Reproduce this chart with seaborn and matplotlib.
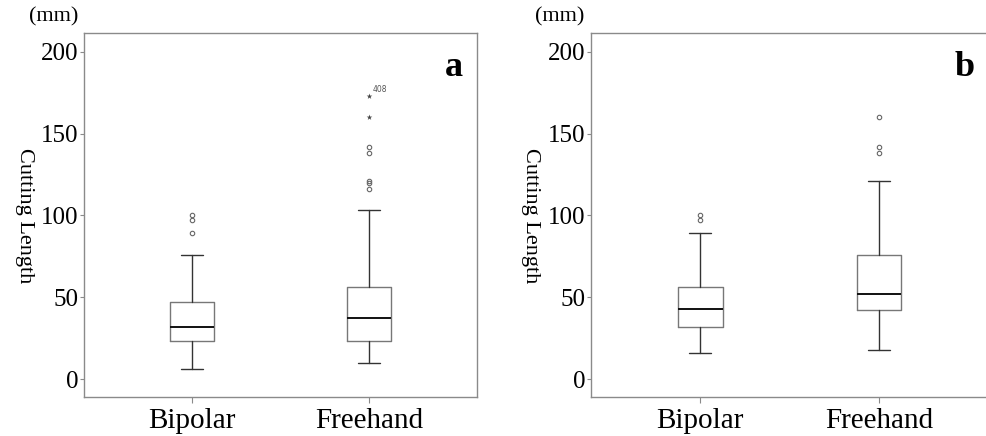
import matplotlib
matplotlib.use('Agg')

import matplotlib.pyplot as plt
import seaborn as sns

# summary values (mm)
groups = ['Bipolar', 'Freehand']
panel_labels = ['a', 'b']

# panel a
a_whislo = [6, 10]
a_q1 = [23, 23]
a_med = [32, 37]
a_q3 = [47, 56]
a_whishi = [76, 103]
a_fliers = [[89, 97, 100], [116, 120, 121, 138, 142]]
a_extremes = [[], [160, 173]]

# panel b
b_whislo = [16, 18]
b_q1 = [32, 42]
b_med = [43, 52]
b_q3 = [56, 76]
b_whishi = [89, 121]
b_fliers = [[97, 100], [138, 142, 160]]
b_extremes = [[], []]

yticks = [0, 50, 100, 150, 200]

sns.set_style('white')
plt.rcParams['font.family'] = ['Liberation Serif', 'DejaVu Serif']
plt.rcParams['text.color'] = 'black'
plt.rcParams['axes.labelcolor'] = 'black'
plt.rcParams['xtick.labelcolor'] = 'black'
plt.rcParams['ytick.labelcolor'] = 'black'

GRAY = '#8a8a8a'


def make_stats(lo, q1, med, q3, hi, fl):
    out = []
    for i in range(len(groups)):
        out.append({'whislo': lo[i], 'q1': q1[i], 'med': med[i], 'q3': q3[i],
                    'whishi': hi[i], 'fliers': fl[i], 'label': groups[i]})
    return out


def draw_panel(ax, stats, extremes, letter, note=None):
    ax.bxp(stats, positions=[0, 1], widths=0.25, showfliers=True,
           boxprops=dict(color='#777777', linewidth=1.0),
           whiskerprops=dict(color='#333333', linewidth=1.0),
           capprops=dict(color='#333333', linewidth=1.0),
           medianprops=dict(color='#111111', linewidth=1.4),
           flierprops=dict(marker='o', markersize=3.2, markerfacecolor='none',
                           markeredgecolor='#666666', markeredgewidth=0.8))
    for i, vals in enumerate(extremes):
        if vals:
            sns.scatterplot(x=[i] * len(vals), y=vals, ax=ax, marker='*', s=18,
                            color='#444444', linewidth=0, legend=False)
    if note:
        i, v, txt = note
        ax.text(i + 0.02, v + 1.5, txt, fontsize=5.5, color='#555555',
                family='DejaVu Sans', ha='left', va='bottom')

    ax.set_xlim(-0.61, 1.61)
    ax.set_ylim(-11, 211.5)
    ax.set_yticks(yticks)
    ax.set_xticks([0, 1])
    ax.set_xticklabels(groups, fontsize=21)
    ax.tick_params(axis='y', labelsize=18, length=3, width=0.8, color=GRAY, pad=1,
                   left=True, labelcolor='black')
    ax.tick_params(axis='x', length=4, width=0.8, color=GRAY, pad=4, bottom=True,
                   labelcolor='black')
    for s in ax.spines.values():
        s.set_color(GRAY)
        s.set_linewidth(1.0)
    ax.set_ylabel('Cutting Length', fontsize=16, rotation=-90, va='center',
                  ha='center', color='black')
    ax.yaxis.set_label_coords(-0.152, 0.498)
    ax.text(0.965, 0.905, letter, transform=ax.transAxes, fontsize=26,
            fontweight='bold', ha='right', va='center', color='black')
    ax.text(-0.078, 1.045, '(mm)', transform=ax.transAxes, fontsize=16,
            ha='center', va='center', color='black')


fig = plt.figure(figsize=(9.87, 4.36), dpi=100)
ax1 = fig.add_axes([0.0851, 0.0894, 0.3982, 0.835])
ax2 = fig.add_axes([0.5988, 0.0894, 0.4025, 0.835])

draw_panel(ax1, make_stats(a_whislo, a_q1, a_med, a_q3, a_whishi, a_fliers),
           a_extremes, panel_labels[0], note=(1, 173, '408'))
draw_panel(ax2, make_stats(b_whislo, b_q1, b_med, b_q3, b_whishi, b_fliers),
           b_extremes, panel_labels[1])

fig.savefig('out.png', dpi=100)
